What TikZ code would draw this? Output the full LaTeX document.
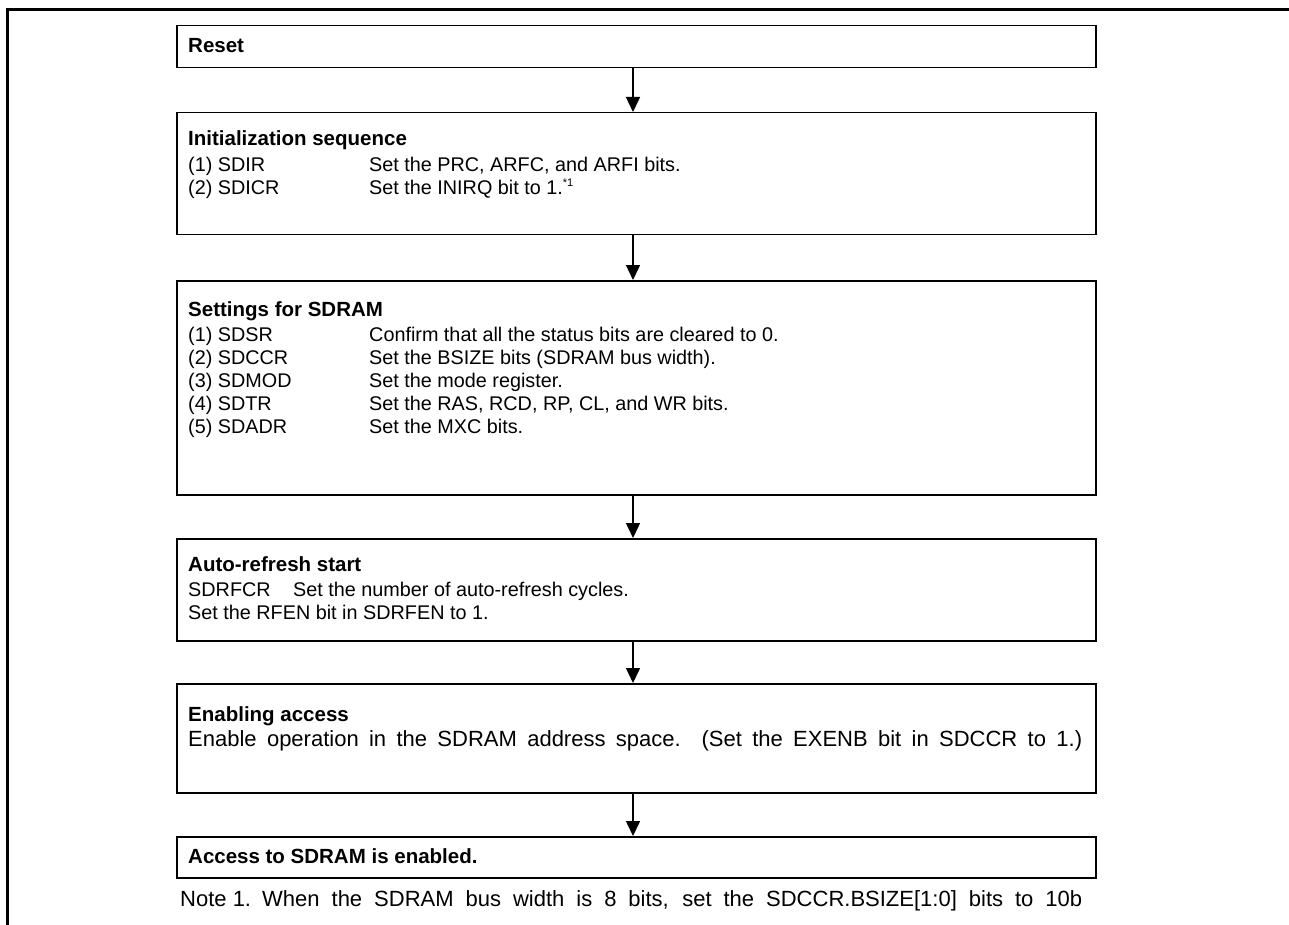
\documentclass[tikz,border=0pt]{standalone}
\usepackage{fontspec}
\setmainfont{Liberation Sans}
\usetikzlibrary{arrows.meta}
\begin{document}
\begin{tikzpicture}[x=1pt,y=-1pt,
  box/.style={draw, line width=1.5pt, minimum width=919pt, inner sep=0pt, anchor=north west},
  txt/.style={anchor=base west, inner sep=0pt, font=\fontsize{19.8}{23}\selectfont},
  big/.style={anchor=base west, inner sep=0pt, font=\fontsize{22}{26}\selectfont},
  ttl/.style={anchor=base west, inner sep=0pt, font=\fontsize{20.5}{24}\selectfont\bfseries},
  flow/.style={-{Triangle[length=15pt,width=14pt]}, line width=1.5pt}]
\useasboundingbox (0,0) rectangle (1289,925);
\draw[line width=3pt] (7,925) -- (7,10) -- (1289,10);
\coordinate (ax) at (633,0);
% boxes
\node[box, minimum height=42pt]  (reset) at (176,25) {};
\node[box, minimum height=122pt] (init)  at (176,112) {};
\node[box, minimum height=214pt] (sdram) at (176,280) {};
\node[box, minimum height=102pt] (auto)  at (176,538) {};
\node[box, minimum height=109pt] (enab)  at (176,683) {};
\node[box, minimum height=41pt]  (acc)   at (176,836) {};
% arrows
\draw[flow] (reset.south -| ax) -- (init.north -| ax);
\draw[flow] (init.south -| ax) -- (sdram.north -| ax);
\draw[flow] (sdram.south -| ax) -- (auto.north -| ax);
\draw[flow] (auto.south -| ax) -- (enab.north -| ax);
\draw[flow] (enab.south -| ax) -- (acc.north -| ax);
% texts
\node[ttl] (t0) at (188,53) {Reset};
\node[ttl] (t1) at (188,146) {Initialization sequence};
\node[txt] (t1a) at (188,172) {(1) SDIR};
\node[txt] (t1b) at (369,172) {Set the PRC, ARFC, and ARFI bits.};
\node[txt] (t1c) at (188,195) {(2) SDICR};
\node[txt] (t1d) at (369,195) {Set the INIRQ bit to 1.\raisebox{0.45em}{\fontsize{11}{12}\selectfont *1}};
\node[ttl] (t2) at (188,316) {Settings for SDRAM};
\node[txt] (t2a) at (188,341) {(1) SDSR};
\node[txt] (t2b) at (369,341) {Confirm that all the status bits are cleared to 0.};
\node[txt] (t2c) at (188,364) {(2) SDCCR};
\node[txt] (t2d) at (369,364) {Set the BSIZE bits (SDRAM bus width).};
\node[txt] (t2e) at (188,387) {(3) SDMOD};
\node[txt] (t2f) at (369,387) {Set the mode register.};
\node[txt] (t2g) at (188,410) {(4) SDTR};
\node[txt] (t2h) at (369,410) {Set the RAS, RCD, RP, CL, and WR bits.};
\node[txt] (t2i) at (188,433) {(5) SDADR};
\node[txt] (t2j) at (369,433) {Set the MXC bits.};
\node[ttl] (t3) at (188,571) {Auto-refresh start};
\node[txt] (t3a) at (188,596) {SDRFCR};
\node[txt] (t3b) at (293,596) {Set the number of auto-refresh cycles.};
\node[txt] (t3c) at (188,619) {Set the RFEN bit in SDRFEN to 1.};
\node[ttl] (t4) at (188,721) {Enabling access};
\node[big] (t4a) at (188,746) {\makebox[894pt][s]{Enable operation in the SDRAM address space. (Set the EXENB bit in SDCCR to 1.)}};
\node[ttl] (t5) at (188,863) {Access to SDRAM is enabled.};
\node[big] (n1) at (180,906) {Note 1.};
\node[big] (n2) at (262,906) {\makebox[820pt][s]{When the SDRAM bus width is 8 bits, set the SDCCR.BSIZE[1:0] bits to 10b}};
\end{tikzpicture}
\end{document}
